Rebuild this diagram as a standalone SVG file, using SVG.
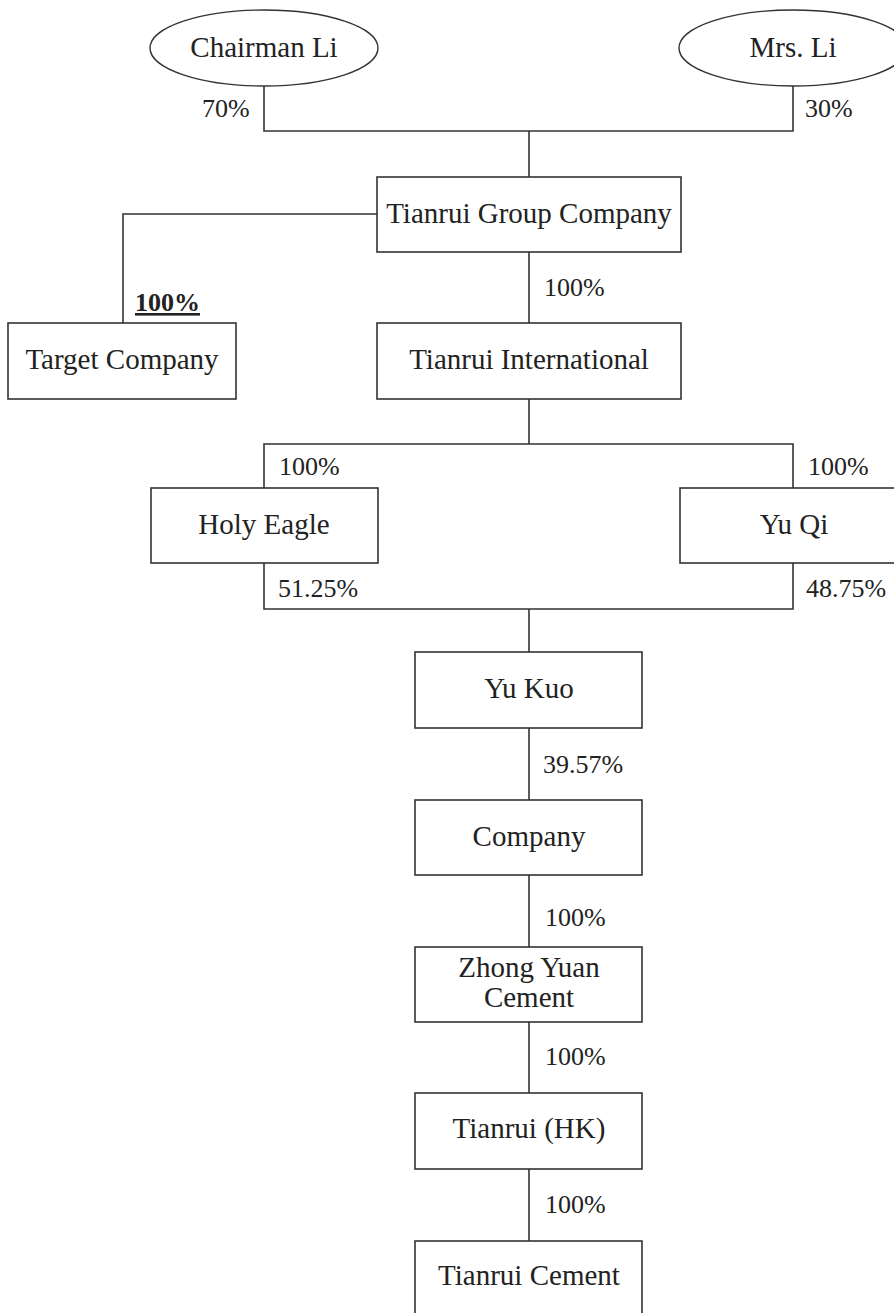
<svg xmlns="http://www.w3.org/2000/svg" width="894" height="1313" viewBox="0 0 894 1313">
<style>
.box{fill:#fff;stroke:#333;stroke-width:1.6}
.ell{fill:#fff;stroke:#333;stroke-width:1.4}
.lbl{font-family:"Liberation Serif","Times New Roman",serif;font-size:29px;fill:#222;text-anchor:middle}
.pct{font-family:"Liberation Serif","Times New Roman",serif;font-size:26px;fill:#222}
.conn{fill:none;stroke:#333;stroke-width:1.6}
</style>
<rect width="894" height="1313" fill="#fff"/>
<g id="connectors">
<polyline class="conn" points="264,85 264,131 793,131 793,86"/>
<line class="conn" x1="529" y1="131" x2="529" y2="177"/>
<polyline class="conn" points="377,214 123,214 123,323"/>
<line class="conn" x1="529" y1="252" x2="529" y2="323"/>
<line class="conn" x1="529" y1="399" x2="529" y2="444"/>
<polyline class="conn" points="264,488 264,444 793,444 793,488"/>
<polyline class="conn" points="264,563 264,609 793,609 793,563"/>
<line class="conn" x1="529" y1="609" x2="529" y2="652"/>
<line class="conn" x1="529" y1="728" x2="529" y2="800"/>
<line class="conn" x1="529" y1="875" x2="529" y2="947"/>
<line class="conn" x1="529" y1="1022" x2="529" y2="1093"/>
<line class="conn" x1="529" y1="1169" x2="529" y2="1241"/>
</g>
<g id="labels">
<text class="pct" x="202" y="117">70%</text>
<text class="pct" x="805" y="117">30%</text>
<text class="pct" x="544" y="296">100%</text>
<text class="pct" x="135" y="311" font-weight="bold" text-decoration="underline">100%</text>
<text class="pct" x="279" y="475">100%</text>
<text class="pct" x="808" y="475">100%</text>
<text class="pct" x="278" y="597">51.25%</text>
<text class="pct" x="806" y="597">48.75%</text>
<text class="pct" x="543" y="773">39.57%</text>
<text class="pct" x="545" y="926">100%</text>
<text class="pct" x="545" y="1065">100%</text>
<text class="pct" x="545" y="1213">100%</text>
</g>
<g id="chairman-li">
<ellipse class="ell" cx="264" cy="48" rx="114" ry="38"/>
<text class="lbl" x="264" y="57">Chairman Li</text>
</g>
<g id="mrs-li">
<ellipse class="ell" cx="793" cy="48" rx="114" ry="38"/>
<text class="lbl" x="793" y="57">Mrs. Li</text>
</g>
<g id="tianrui-group">
<rect class="box" x="377" y="177" width="304" height="75"/>
<text class="lbl" x="529" y="223">Tianrui Group Company</text>
</g>
<g id="target-company">
<rect class="box" x="8" y="323" width="228" height="76"/>
<text class="lbl" x="122" y="369">Target Company</text>
</g>
<g id="tianrui-international">
<rect class="box" x="377" y="323" width="304" height="76"/>
<text class="lbl" x="529" y="369">Tianrui International</text>
</g>
<g id="holy-eagle">
<rect class="box" x="151" y="488" width="227" height="75"/>
<text class="lbl" x="264" y="534">Holy Eagle</text>
</g>
<g id="yu-qi">
<rect class="box" x="680" y="488" width="227" height="75"/>
<text class="lbl" x="794" y="534">Yu Qi</text>
</g>
<g id="yu-kuo">
<rect class="box" x="415" y="652" width="227" height="76"/>
<text class="lbl" x="529" y="698">Yu Kuo</text>
</g>
<g id="company">
<rect class="box" x="415" y="800" width="227" height="75"/>
<text class="lbl" x="529" y="846">Company</text>
</g>
<g id="zhong-yuan-cement">
<rect class="box" x="415" y="947" width="227" height="75"/>
<text class="lbl" x="529" y="977">Zhong Yuan</text>
<text class="lbl" x="529" y="1007">Cement</text>
</g>
<g id="tianrui-hk">
<rect class="box" x="415" y="1093" width="227" height="76"/>
<text class="lbl" x="529" y="1138">Tianrui (HK)</text>
</g>
<g id="tianrui-cement">
<rect class="box" x="415" y="1241" width="227" height="80"/>
<text class="lbl" x="529" y="1285">Tianrui Cement</text>
</g>
</svg>
